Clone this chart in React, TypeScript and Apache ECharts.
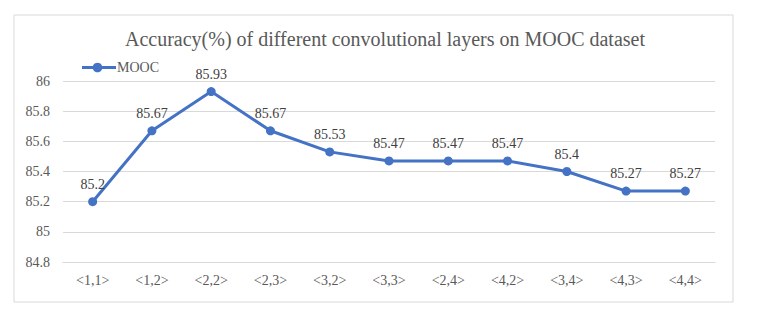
import React, { useEffect, useRef } from "react";
import * as echarts from "echarts";

const categories = ["<1,1>", "<1,2>", "<2,2>", "<2,3>", "<3,2>", "<3,3>", "<2,4>", "<4,2>", "<3,4>", "<4,3>", "<4,4>"];
const moocValues = [85.2, 85.67, 85.93, 85.67, 85.53, 85.47, 85.47, 85.47, 85.4, 85.27, 85.27];
const titleText = "Accuracy(%) of different convolutional layers on MOOC dataset";
const seriesName = "MOOC";

const FONT = "Liberation Serif, Times New Roman, serif";
const BLUE = "#4472C4";

export default function App() {
  const ref = useRef<HTMLDivElement>(null);
  useEffect(() => {
    if (!ref.current) return;
    const chart = echarts.init(ref.current, null, { renderer: "svg" });
    chart.setOption({
      animation: false,
      backgroundColor: "#ffffff",
      textStyle: { fontFamily: FONT },
      graphic: [
        {
          type: "rect",
          shape: { x: 14, y: 15, width: 719, height: 287 },
          style: { fill: "none", stroke: "#d9d9d9", lineWidth: 1 },
          silent: true,
          z: -1,
        },
        {
          type: "line",
          shape: { x1: 82, y1: 67.5, x2: 116, y2: 67.5 },
          style: { stroke: BLUE, lineWidth: 3 },
          silent: true,
        },
        {
          type: "circle",
          shape: { cx: 97.5, cy: 67.5, r: 4.8 },
          style: { fill: BLUE },
          silent: true,
        },
        {
          type: "text",
          x: 117,
          y: 67.5,
          style: {
            text: seriesName,
            fontFamily: FONT,
            fontSize: 14,
            fill: "#595959",
            verticalAlign: "middle",
            align: "left",
          },
          silent: true,
        },
      ],
      title: {
        text: titleText,
        left: "center",
        top: 24,
        textStyle: { fontFamily: FONT, fontSize: 20, fontWeight: "normal", color: "#595959" },
      },
      grid: { left: 63, right: 55, top: 81, bottom: 65 },
      xAxis: {
        type: "category",
        data: categories,
        boundaryGap: true,
        axisLine: { show: true, lineStyle: { color: "#d9d9d9" } },
        axisTick: { show: false },
        axisLabel: { fontFamily: FONT, fontSize: 14, color: "#595959", margin: 11 },
      },
      yAxis: {
        type: "value",
        min: 84.8,
        max: 86,
        interval: 0.2,
        axisLine: { show: false },
        axisTick: { show: false },
        splitLine: { lineStyle: { color: "#d9d9d9" } },
        axisLabel: {
          fontFamily: FONT,
          fontSize: 14,
          color: "#595959",
          margin: 13,
          formatter: (v: number) => String(+v.toFixed(1)),
        },
      },
      series: [
        {
          name: seriesName,
          type: "line",
          data: moocValues,
          symbol: "circle",
          symbolSize: 9,
          lineStyle: { color: BLUE, width: 3 },
          itemStyle: { color: BLUE },
          label: {
            show: true,
            position: "top",
            distance: 6,
            fontFamily: FONT,
            fontSize: 14,
            color: "#404040",
          },
        },
      ],
    });
    return () => chart.dispose();
  }, []);
  return <div ref={ref} style={{ position: "absolute", left: 0, top: 0, width: 770, height: 327 }} />;
}
